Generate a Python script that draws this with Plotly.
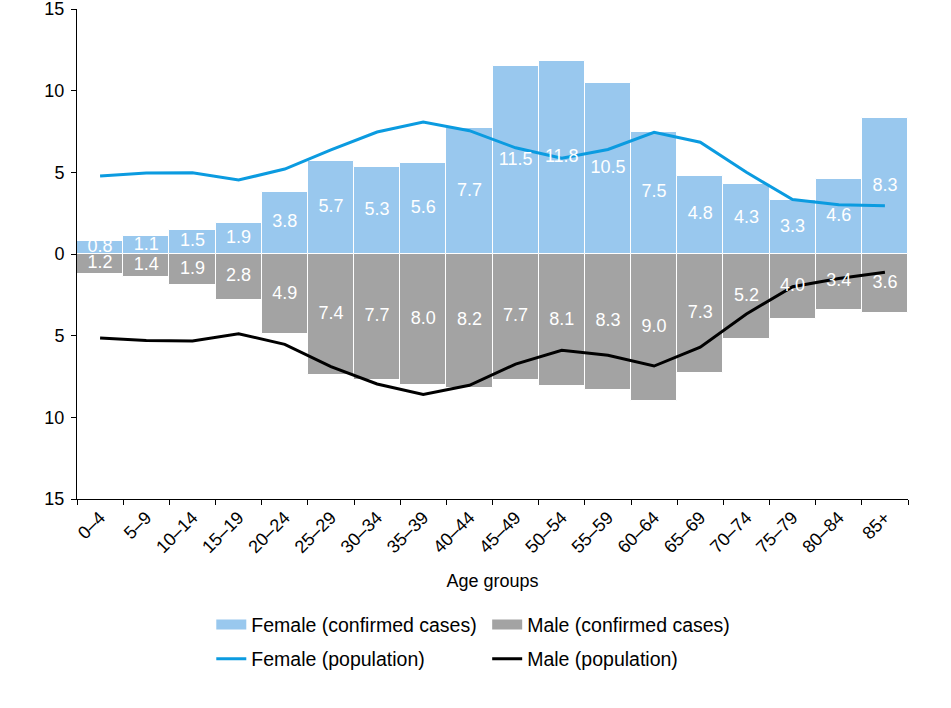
import plotly.graph_objects as go

age_groups = ["0–4", "5–9", "10–14", "15–19", "20–24", "25–29", "30–34", "35–39", "40–44",
              "45–49", "50–54", "55–59", "60–64", "65–69", "70–74", "75–79", "80–84", "85+"]
female_cases = [0.8, 1.1, 1.5, 1.9, 3.8, 5.7, 5.3, 5.6, 7.7, 11.5, 11.8, 10.5, 7.5, 4.8, 4.3, 3.3, 4.6, 8.3]
male_cases = [1.2, 1.4, 1.9, 2.8, 4.9, 7.4, 7.7, 8.0, 8.2, 7.7, 8.1, 8.3, 9.0, 7.3, 5.2, 4.0, 3.4, 3.6]
female_pop = [4.78, 4.96, 4.98, 4.53, 5.2, 6.37, 7.47, 8.08, 7.55, 6.5, 5.87, 6.4, 7.45, 6.84, 5.0, 3.34, 3.02, 2.96]
male_pop = [5.14, 5.3, 5.32, 4.88, 5.53, 6.9, 7.96, 8.6, 8.04, 6.74, 5.9, 6.2, 6.86, 5.7, 3.67, 2.0, 1.5, 1.12]
y_ticks = [-15, -10, -5, 0, 5, 10, 15]

FONT = "Liberation Sans, Arial, Helvetica, sans-serif"
F_BAR = "#99c8ee"
M_BAR = "#a3a3a3"
F_LINE = "#0b9be0"
M_LINE = "#000000"

fig = go.Figure()
fig.add_trace(go.Bar(x=age_groups, y=female_cases, marker=dict(color=F_BAR, line=dict(color="white", width=1)),
                     showlegend=False, hoverinfo="skip"))
fig.add_trace(go.Bar(x=age_groups, y=[-v for v in male_cases], marker=dict(color=M_BAR, line=dict(color="white", width=1)),
                     showlegend=False, hoverinfo="skip"))
fig.add_trace(go.Scatter(x=age_groups, y=female_pop, mode="lines", line=dict(color=F_LINE, width=3),
                         showlegend=False))
fig.add_trace(go.Scatter(x=age_groups, y=[-v for v in male_pop], mode="lines", line=dict(color=M_LINE, width=3),
                         showlegend=False))
fig.add_trace(go.Scatter(x=age_groups, y=[v / 2 for v in female_cases], mode="text",
                         text=[f"{v:.1f}" for v in female_cases],
                         textfont=dict(color="white", size=18, family=FONT), showlegend=False))
fig.add_trace(go.Scatter(x=age_groups, y=[-v / 2 for v in male_cases], mode="text",
                         text=[f"{v:.1f}" for v in male_cases],
                         textfont=dict(color="white", size=18, family=FONT), showlegend=False))

# legend entries
fig.add_trace(go.Scatter(x=[None], y=[None], mode="lines", line=dict(color=F_BAR, width=15),
                         name="Female (confirmed cases)", legend="legend", legendgroup="a"))
fig.add_trace(go.Scatter(x=[None], y=[None], mode="lines", line=dict(color=F_LINE, width=3),
                         name="Female (population)", legend="legend", legendgroup="b"))
fig.add_trace(go.Scatter(x=[None], y=[None], mode="lines", line=dict(color=M_BAR, width=15),
                         name="Male (confirmed cases)", legend="legend2", legendgroup="c"))
fig.add_trace(go.Scatter(x=[None], y=[None], mode="lines", line=dict(color=M_LINE, width=3),
                         name="Male (population)", legend="legend2", legendgroup="d"))

fig.update_layout(
    width=951, height=708,
    margin=dict(l=77, r=43, t=9, b=209),
    paper_bgcolor="white", plot_bgcolor="white",
    barmode="relative", bargap=0,
    font=dict(family=FONT, size=18, color="black"),
    legend=dict(x=0.1616, y=-0.217, xanchor="left", yanchor="top", tracegroupgap=6,
                font=dict(size=19.5), bgcolor="rgba(0,0,0,0)"),
    legend2=dict(x=0.4936, y=-0.217, xanchor="left", yanchor="top", tracegroupgap=6,
                 font=dict(size=19.5), bgcolor="rgba(0,0,0,0)"),
    xaxis=dict(type="category", range=[-0.5, 17.5], showgrid=False, showline=True, linecolor="black", linewidth=1,
               ticks="outside", ticklen=5, tickcolor="black", tickson="boundaries",
               tickangle=-45, tickfont=dict(size=18),
               title=dict(text="Age groups", font=dict(size=18), standoff=18)),
    yaxis=dict(range=[-15, 15], tickvals=y_ticks, ticktext=[str(abs(v)) for v in y_ticks],
               showgrid=False, zeroline=False, showline=True, linecolor="black", linewidth=1,
               ticks="outside", ticklen=5, tickcolor="black", tickfont=dict(size=18),
               ticklabelstandoff=3, ticklabeloverflow="allow", automargin=False),
)

fig.write_html("out.html")
